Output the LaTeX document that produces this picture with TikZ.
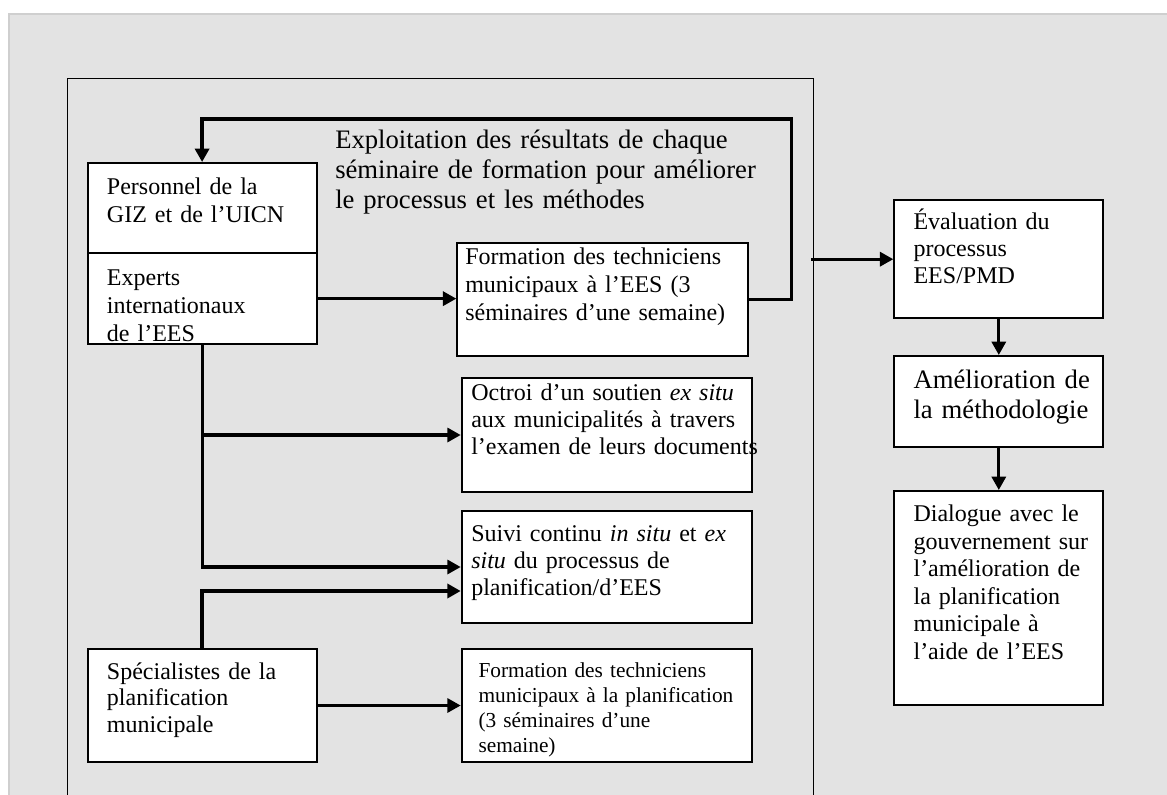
\documentclass[tikz,border=0pt]{standalone}
\usepackage{fontspec}
\setmainfont{Liberation Serif}
\usetikzlibrary{arrows.meta,fit,calc}
\definecolor{bg}{HTML}{E3E3E3}
\definecolor{bgline}{HTML}{CFCFCF}
\newcommand\fsz[2]{\fontsize{#1}{#2}\selectfont}
\tikzset{
  box/.style={draw=black, line width=1.5pt, fill=white, inner sep=0pt},
  txt/.style={anchor=base west, inner sep=0pt, align=left, text width=400pt},
  tip/.style={-{Triangle[length=10pt,width=10.5pt]}},
  arr/.style={line width=2.3pt, tip},
  thickarr/.style={line width=3.4pt, tip},
  loop/.style={line width=2.6pt, tip},
  frame/.style={line width=1.1pt}
}
\begin{document}
\begin{tikzpicture}[x=0.75pt,y=-0.75pt]
\useasboundingbox (0,0) rectangle (1167,795);
\fill[white] (0,0) rectangle (1167,795);
\fill[bg] (9,14) rectangle (1167,795);
\draw[bgline, line width=0.9pt] (9,795) -- (9,14) -- (1167,14);

% outer frame
\draw[frame] (67.3,796) -- (67.3,78.3) -- (813.3,78.3) -- (813.3,796);
\coordinate (fr) at (811,259.2);

% boxes
\node[box, fit={(87.7,163) (316.5,253)}] (pers) {};
\node[box, fit={(87.7,253) (316.5,344.3)}] (exp) {};
\node[box, fit={(457.3,243) (748.3,355.7)}] (formees) {};
\node[box, fit={(461.7,378.3) (752.3,491.7)}] (octroi) {};
\node[box, fit={(461.7,510.7) (752.3,623.3)}] (suivi) {};
\node[box, fit={(87.7,649.3) (316.7,761.7)}] (spec) {};
\node[box, fit={(461.7,649.3) (752.3,762.3)}] (formpl) {};
\node[box, fit={(894.3,200.3) (1103.3,318)}] (eval) {};
\node[box, fit={(894.3,356) (1103.3,446.7)}] (amel) {};
\node[box, fit={(894.3,491) (1103.3,705)}] (dial) {};

% texts
\node[txt, font=\fsz{18}{21}] (persT) at (106.7,194.5) {Personnel de la\\GIZ et de l’UICN};
\node[txt, font=\fsz{18}{21}] (expT) at (106.7,285) {Experts\\internationaux\\de l’EES};
\node[txt, font=\fsz{20}{22.5}] (explT) at (335,148.3) {Exploitation des résultats de chaque\\séminaire de formation pour améliorer\\le processus et les méthodes};
\node[txt, font=\fsz{18}{21.2}] (formeesT) at (465,264.3) {Formation des techniciens\\municipaux à l’EES (3\\séminaires d’une semaine)};
\node[txt, font=\fsz{18}{20.25}] (octroiT) at (471,400) {Octroi d’un soutien \textit{ex situ}\\aux municipalités à travers\\l’examen de leurs documents};
\node[txt, font=\fsz{18}{20.25}] (suiviT) at (471,541.7) {Suivi continu \textit{in situ} et \textit{ex}\\\textit{situ} du processus de\\planification/d’EES};
\node[txt, font=\fsz{16}{18.75}] (formplT) at (478.3,677.3) {Formation des techniciens\\municipaux à la planification\\(3 séminaires d’une\\semaine)};
\node[txt, font=\fsz{18}{20}] (specT) at (106.7,679.3) {Spécialistes de la\\planification\\municipale};
\node[txt, font=\fsz{18}{20.5}] (evalT) at (913.3,229.3) {Évaluation du\\processus\\EES/PMD};
\node[txt, font=\fsz{20}{22.5}] (amelT) at (913.3,388.3) {Amélioration de\\la méthodologie};
\node[txt, font=\fsz{18}{20.6}] (dialT) at (913.3,521.7) {Dialogue avec le\\gouvernement sur\\l’amélioration de\\la planification\\municipale à\\l’aide de l’EES};

% connectors
\draw[loop] (formees.east) -| (791.7,119) -| (pers.north);
\draw[arr] (exp.east) -- (exp.east -| formees.west);
\draw[arr] (exp.south) |- (octroi.west);
\draw[arr] (exp.south) |- (suivi.west);
\draw[thickarr] (spec.north) |- ($(suivi.west)+(0,24)$);
\draw[arr] (spec.east) -- (spec.east -| formpl.west);
\draw[arr] (fr) -- (fr -| eval.west);
\draw[arr] (eval.south) -- (amel.north);
\draw[arr] (amel.south) -- (dial.north);
\end{tikzpicture}
\end{document}
